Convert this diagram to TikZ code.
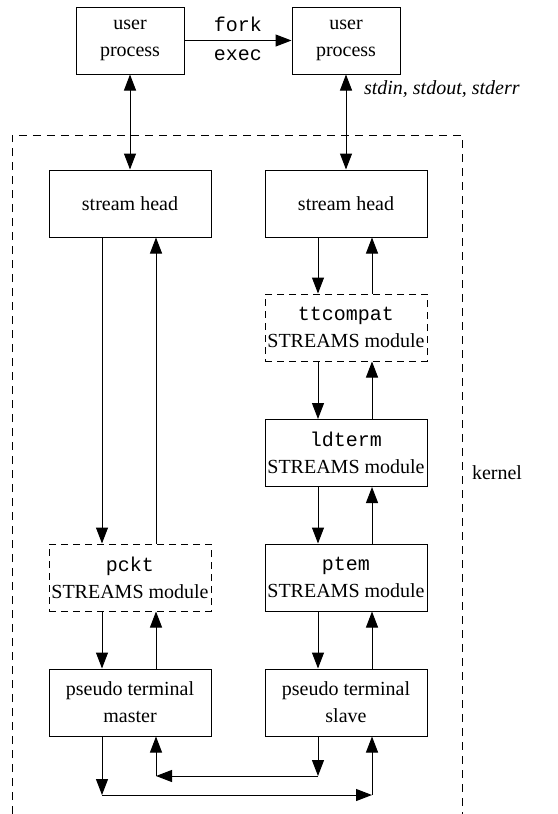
\documentclass[tikz,border=0pt]{standalone}
\usepackage{fontspec}
\setmainfont{Liberation Serif}
\setmonofont{Liberation Mono}
\usetikzlibrary{arrows.meta}

\tikzset{
  box/.style={draw, line width=0.5pt, align=center, inner sep=0pt,
              minimum height=33.5pt},
  userbox/.style={box, minimum width=54pt},
  modbox/.style={box, minimum width=81pt},
  dashbox/.style={modbox, dash pattern=on 3.5pt off 2.5pt},
  arr/.style={line width=0.5pt, -{Triangle[length=8pt, width=6pt]}},
  dblarr/.style={line width=0.5pt,
                 {Triangle[length=8pt, width=6pt]}-{Triangle[length=8pt, width=6pt]}}
}

\begin{document}
\begin{tikzpicture}[x=0.5pt, y=-0.5pt,
    every node/.style={font=\fontsize{10}{13.5}\selectfont}]
  \useasboundingbox (0,0) rectangle (557,814);
  % user processes
  \node[userbox] (up1) at (130,40.5) {user\\process};
  \node[userbox] (up2) at (346,40.5) {user\\process};
  \draw[arr] (up1) -- (up2)
    node[midway, above=1pt] (fork) {\texttt{fork}}
    node[midway, below=1pt] (exec) {\texttt{exec}};
  % kernel boundary (open at the bottom)
  \draw[line width=0.5pt, dash pattern=on 4pt off 3pt]
    (12,814) -- (12,135) -- (462,135) -- (462,814);
  \node[anchor=west] (kern) at (465,473) {kernel};
  % left stream: master side
  \node[modbox] (sh1) at (130,203.5) {stream head};
  \node[dashbox] (pckt) at (130,577.5) {\texttt{pckt}\\STREAMS module};
  \node[modbox] (ptm) at (130,702.5) {pseudo terminal\\master};
  % right stream: slave side
  \node[modbox] (sh2) at (346,203.5) {stream head};
  \node[dashbox] (ttc) at (346,327.5) {\texttt{ttcompat}\\STREAMS module};
  \node[modbox] (ldt) at (346,453) {\texttt{ldterm}\\STREAMS module};
  \node[modbox] (ptem) at (346,577.5) {\texttt{ptem}\\STREAMS module};
  \node[modbox] (pts) at (346,702.5) {pseudo terminal\\slave};
  % user process <-> stream head
  \draw[dblarr] (up1) -- (sh1);
  \draw[dblarr] (up2) -- (sh2);
  \node[anchor=west, font=\fontsize{10}{13.5}\selectfont\itshape] (std) at (357,89)
    {stdin, stdout, stderr};
  % down and up between modules
  \foreach \a/\b in {sh1/pckt, pckt/ptm, sh2/ttc, ttc/ldt, ldt/ptem, ptem/pts} {
    \draw[arr] ([xshift=-14pt]\a.south) -- ([xshift=-14pt]\b.north);
    \draw[arr] ([xshift=13pt]\b.north) -- ([xshift=13pt]\a.south);
  }
  % crossover between master and slave
  \coordinate (c1) at (318,776);
  \coordinate (c2) at (156,776);
  \coordinate (c3) at (102,795);
  \coordinate (c4) at (372,795);
  \draw[arr] ([xshift=-14pt]pts.south) -- (c1);
  \draw[arr] (c1) -- (c2);
  \draw[arr] (c2) -- ([xshift=13pt]ptm.south);
  \draw[arr] ([xshift=-14pt]ptm.south) -- (c3);
  \draw[arr] (c3) -- (c4);
  \draw[arr] (c4) -- ([xshift=13pt]pts.south);
\end{tikzpicture}
\end{document}
